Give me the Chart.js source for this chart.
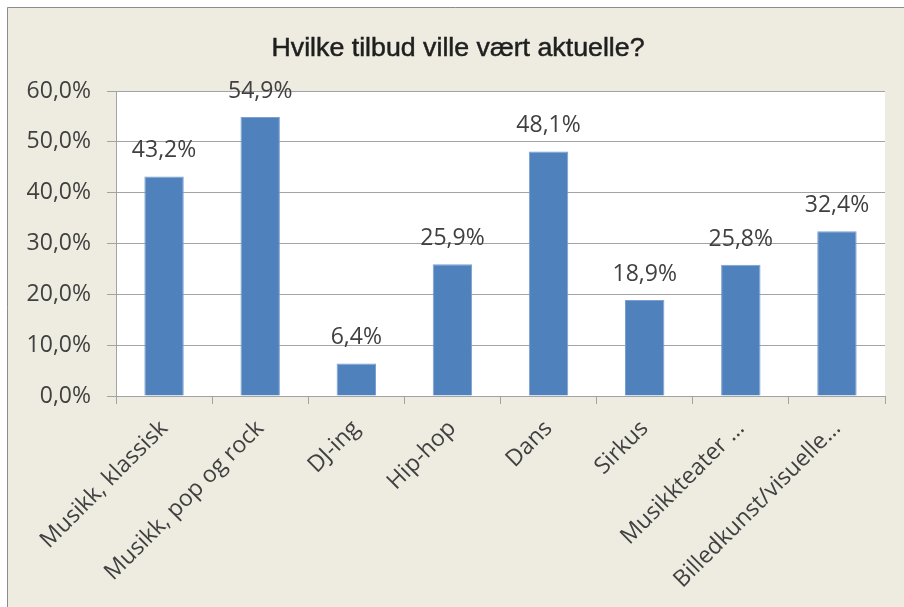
<!DOCTYPE html>
<html>
<head>
<meta charset="utf-8">
<script src="https://cdn.jsdelivr.net/npm/chart.js@4"></script>
<style>
  html, body { margin: 0; padding: 0; background: #fff; }
  canvas { display: block; }
</style>
</head>
<body>
<canvas id="chart" width="904" height="607"></canvas>
<script>
const title = 'Hvilke tilbud ville vært aktuelle?';
const categories = ['Musikk, klassisk', 'Musikk, pop og rock', 'DJ-ing', 'Hip-hop', 'Dans', 'Sirkus', 'Musikkteater …', 'Billedkunst/visuelle…'];
const values = [43.2, 54.9, 6.4, 25.9, 48.1, 18.9, 25.8, 32.4];
const yTicks = [0, 10, 20, 30, 40, 50, 60];

const fmt = (v, d) => v.toFixed(d).replace('.', ',') + '%';
const textColor = '#404040';
const gridColor = '#a3a3a3';

// background, plot area and title
const frame = {
  id: 'frame',
  beforeDraw(chart) {
    const ctx = chart.ctx, a = chart.chartArea;
    ctx.save();
    ctx.fillStyle = '#fff';
    ctx.fillRect(0, 0, chart.width, chart.height);
    ctx.fillStyle = '#eeece1';
    ctx.fillRect(7, 7, chart.width, chart.height);
    ctx.strokeStyle = '#8c8c8c';
    ctx.lineWidth = 1;
    ctx.beginPath();
    ctx.moveTo(7.5, chart.height);
    ctx.lineTo(7.5, 7.5);
    ctx.lineTo(chart.width, 7.5);
    ctx.stroke();
    ctx.fillStyle = '#fff';
    ctx.fillRect(a.left, a.top, a.right - a.left, a.bottom - a.top);
    // title, squeezed to look like a narrow face
    ctx.fillStyle = '#1f1f1f';
    ctx.font = '26px "Liberation Sans"';
    ctx.textAlign = 'center';
    ctx.textBaseline = 'alphabetic';
    ctx.translate(458, 56);
    ctx.scale(373 / ctx.measureText(title).width, 1);
    ctx.fillText(title, 0, 0);
    ctx.strokeStyle = '#1f1f1f';
    ctx.lineWidth = 0.5;
    ctx.strokeText(title, 0, 0);
    ctx.restore();
  }
};

// value labels above the bars
const barLabels = {
  id: 'barLabels',
  afterDatasetsDraw(chart) {
    const ctx = chart.ctx;
    const meta = chart.getDatasetMeta(0);
    ctx.save();
    ctx.fillStyle = textColor;
    ctx.font = '23px "Open Sans"';
    ctx.textAlign = 'center';
    ctx.textBaseline = 'alphabetic';
    meta.data.forEach((bar, i) => {
      ctx.fillText(fmt(values[i], 1), bar.x, bar.y - 19);
    });
    ctx.restore();
  }
};

function draw() {
  new Chart(document.getElementById('chart'), {
    type: 'bar',
    data: {
      labels: categories,
      datasets: [{
        data: values,
        backgroundColor: '#4f81bd',
        borderColor: '#7a9fd0',
        borderWidth: 1,
        categoryPercentage: 1,
        barPercentage: 0.41
      }]
    },
    options: {
      responsive: false,
      animation: false,
      layout: { padding: { top: 91, right: 19, left: 0, bottom: 0 } },
      plugins: { legend: { display: false }, tooltip: { enabled: false } },
      scales: {
        x: {
          grid: { display: true, drawOnChartArea: false, drawTicks: true, tickLength: 8, color: gridColor, offset: true },
          border: { color: gridColor },
          ticks: {
            color: textColor, font: { family: 'Open Sans', size: 23 },
            minRotation: 45, maxRotation: 45, autoSkip: false, padding: 11
          },
          afterFit(scale) { scale.height = 211; }
        },
        y: {
          min: 0, max: 60,
          afterBuildTicks(scale) { scale.ticks = yTicks.map(v => ({ value: v })); },
          grid: { color: gridColor, tickLength: 9 },
          border: { color: gridColor },
          ticks: {
            color: textColor, font: { family: 'Open Sans', size: 23 }, padding: 16,
            callback: v => fmt(v, 1)
          },
          afterFit(scale) { scale.width = 116; }
        }
      }
    },
    plugins: [frame, barLabels]
  });
}

Promise.all([
  document.fonts.load('23px "Open Sans"'),
  document.fonts.load('26px "Liberation Sans"')
]).then(draw, draw);
</script>
</body>
</html>
